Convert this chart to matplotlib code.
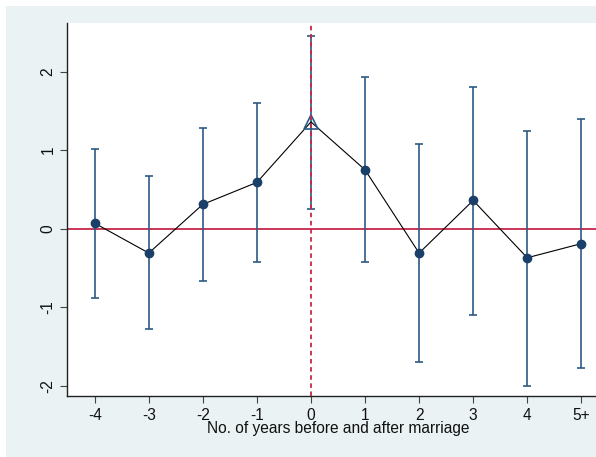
import numpy as np
import matplotlib
matplotlib.use("Agg")
from matplotlib import pyplot as plt
from matplotlib.patches import Rectangle

# event-study estimates around the year of marriage
labels = ["-4", "-3", "-2", "-1", "0", "1", "2", "3", "4", "5+"]
coef = [0.07, -0.31, 0.31, 0.59, 1.36, 0.75, -0.31, 0.36, -0.37, -0.19]
ci_lo = [-0.88, -1.28, -0.67, -0.43, 0.25, -0.42, -1.70, -1.10, -2.00, -1.78]
ci_hi = [1.02, 0.67, 1.28, 1.60, 2.46, 1.93, 1.08, 1.80, 1.25, 1.40]
ref_year = 0  # marriage year, drawn with a hollow marker

bar_col = "#2c5a85"
dot_col = "#1a4069"
red = "#c8264b"
bg = "#eaf2f3"

plt.rcParams["font.family"] = ["Liberation Sans", "DejaVu Sans"]

W, H = 596, 457
fig = plt.figure(figsize=(W/100, H/100), dpi=100, facecolor="white")
fig.patches.append(Rectangle((6/W, 0), 1, 1 - 6/H, transform=fig.transFigure,
                             facecolor=bg, edgecolor="none", zorder=-10))

x0, x1, y_top, y_bot = 67.3, 596, 22.7, 395.7
ax = fig.add_axes([x0/W, 1 - y_bot/H, (x1 - x0)/W, (y_bot - y_top)/H])
ax.set_facecolor("white")

x = np.array([int(l.rstrip("+")) for l in labels])
coef = np.array(coef)
lo = np.array(ci_lo)
hi = np.array(ci_hi)

ax.axhline(0, color=red, lw=1.3, zorder=1)
ax.errorbar(x, coef, yerr=[coef - lo, hi - coef], fmt="none", ecolor=bar_col,
            elinewidth=1.2, capsize=2.6, capthick=1.2, zorder=2)
ax.plot(x, coef, color="black", lw=0.8, zorder=3)
m = x != ref_year
ax.plot(x[m], coef[m], "o", color=dot_col, ms=6, zorder=4)
ax.plot(x[~m], coef[~m], "^", mfc="none", mec=bar_col, mew=1.2, ms=10, zorder=4)
ax.axvline(ref_year, color=red, lw=1.3, ls=(0, (2.5, 2)), zorder=5)

ax.set_xlim(-4.507, 5.272)
ax.set_ylim(-2.127, 2.624)
ax.set_xticks(x)
ax.set_xticklabels(labels)
ax.set_yticks([-2, -1, 0, 1, 2])
ax.set_yticklabels(["-2", "-1", "0", "1", "2"], rotation=90, va="center")

for s in ["top", "right"]:
    ax.spines[s].set_visible(False)
for s in ["left", "bottom"]:
    ax.spines[s].set_color("#222222")
    ax.spines[s].set_linewidth(1.0)
ax.tick_params(axis="both", length=5, width=0.8, color="#444444",
               labelsize=11.2, labelcolor="#111111", pad=3.5)

fig.text(338.5/W, 1 - 429/H, "No. of years before and after marriage",
         ha="center", va="center", fontsize=11.2, color="#111111")

fig.savefig("out.png", dpi=100, facecolor=fig.get_facecolor())
